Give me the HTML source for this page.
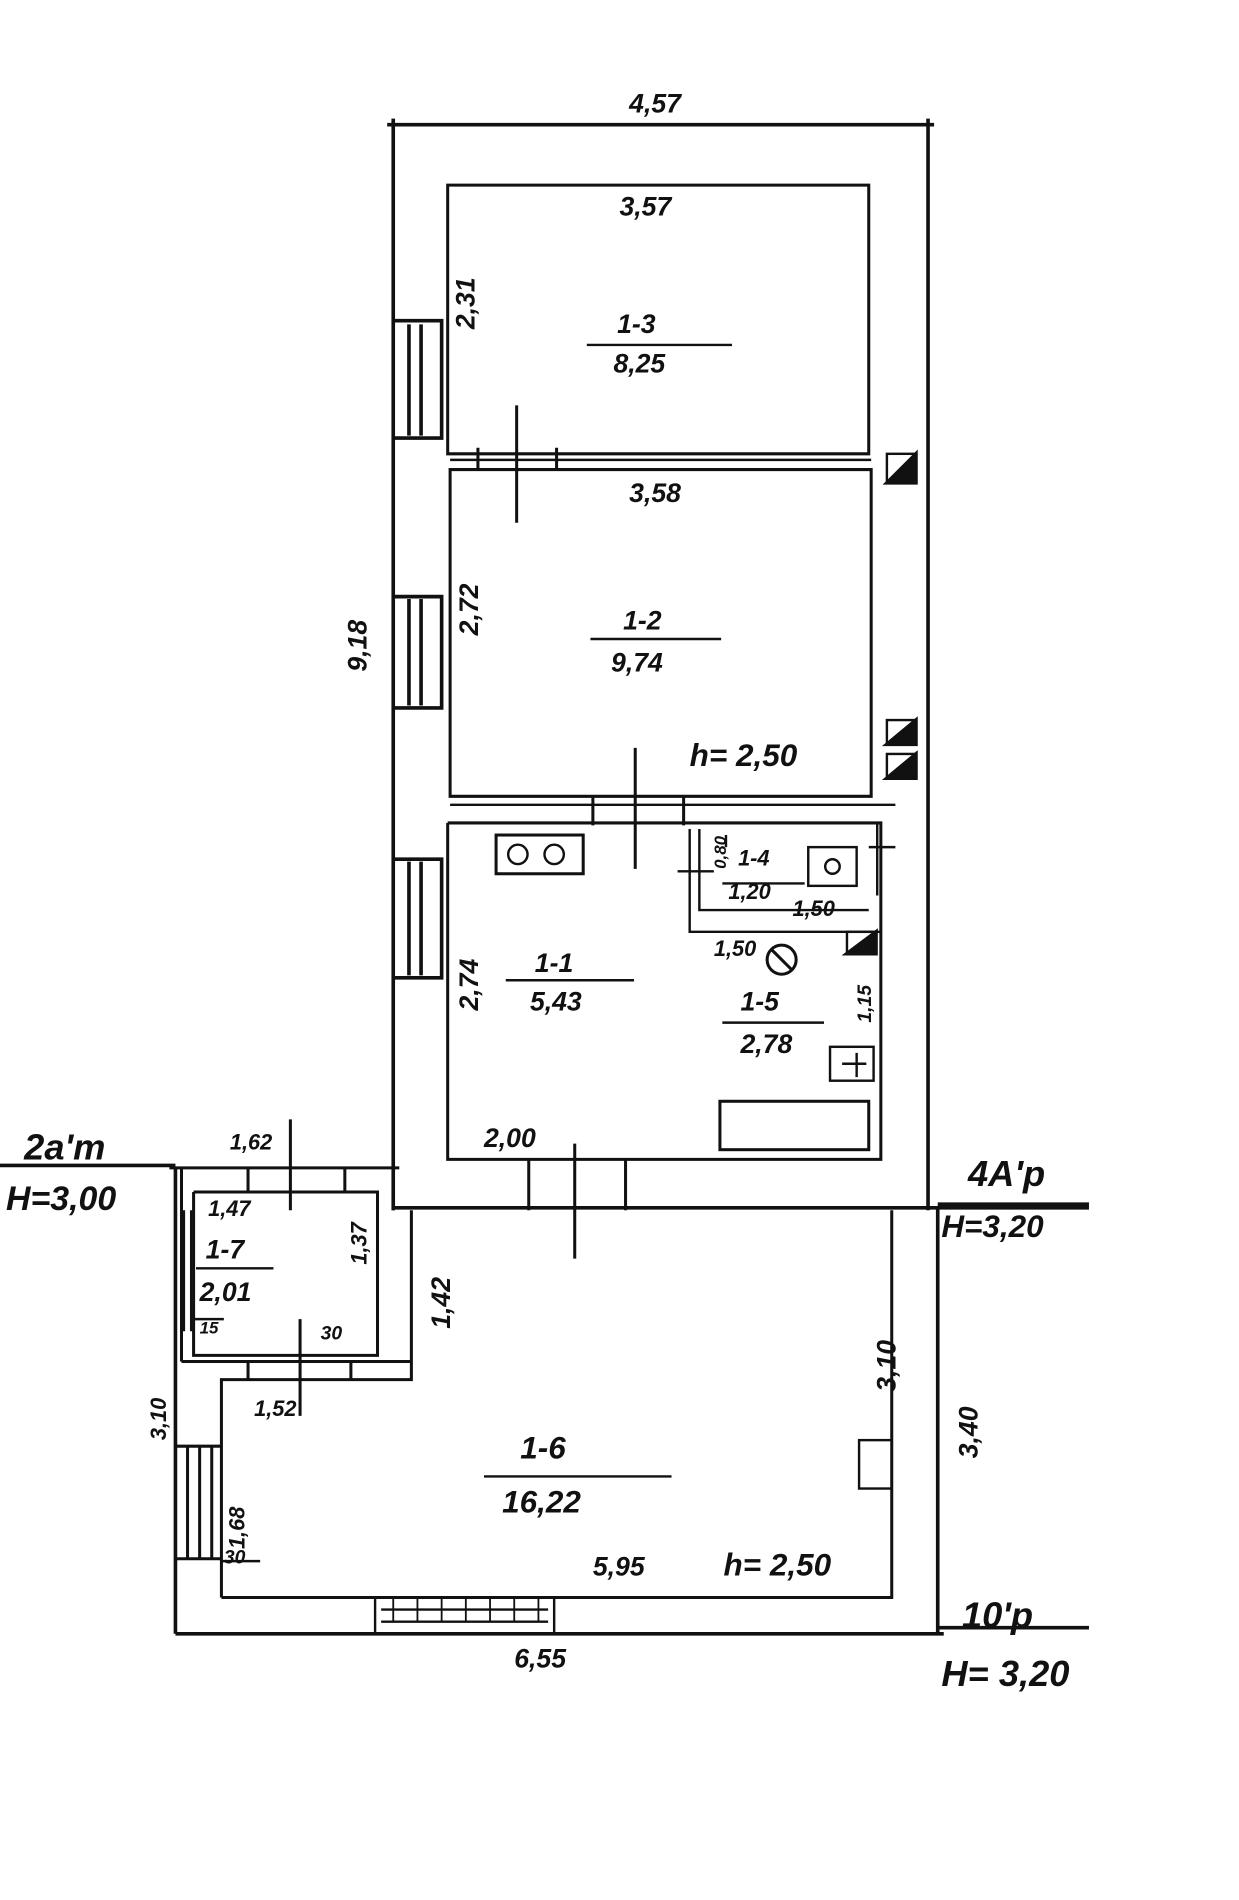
<!DOCTYPE html>
<html><head><style>html,body{margin:0;padding:0;background:#fff}svg{display:block}
text{font-family:"Liberation Sans",sans-serif;font-style:italic;font-weight:bold;fill:#111}</style></head>
<body>
<svg width="1239" height="1900" viewBox="0 0 1024 1570" preserveAspectRatio="none" xmlns="http://www.w3.org/2000/svg">
<g fill="none" stroke="#111" stroke-width="3">
<!-- main outer -->
<path d="M325 98 V1000 M320 103 H772 M767 98 V1000 M325 998 H900"/>
<!-- room 1-3 -->
<path d="M370 153 H718 V375 H370 Z" stroke-width="2.5"/>
<!-- room 1-2 -->
<path d="M372 388 H720 V658 H372 Z" stroke-width="2.5"/>
<path d="M372 380 H720" stroke-width="2"/>
<!-- room 1-1 -->
<path d="M370 680 V958 H728 V680 H370" stroke-width="2.5"/>
<path d="M372 665 H740" stroke-width="2"/>
<!-- doors -->
<path d="M427 335 V432 M395 370 V388 M460 370 V388" stroke-width="2.5"/>
<path d="M525 618 V718 M490 658 V682 M565 658 V682" stroke-width="2.5"/>
<path d="M475 945 V1040 M437 958 V1000 M517 958 V1000" stroke-width="2.5"/>
<!-- windows main -->
<path d="M325 265 H365 V362 H325 M338 268 V360 M348 268 V360"/>
<path d="M325 493 H365 V585 H325 M338 495 V583 M348 495 V583"/>
<path d="M325 710 H365 V808 H325 M338 712 V806 M348 712 V806"/>
<!-- stoves -->
<rect x="733" y="375" width="24" height="24" stroke-width="2"/><path d="M733 399 L757 375 L757 399Z" fill="#111"/>
<rect x="733" y="595" width="24" height="20" stroke-width="2"/><path d="M733 615 L757 595 L757 615Z" fill="#111"/>
<rect x="733" y="623" width="24" height="20" stroke-width="2"/><path d="M733 643 L757 623 L757 643Z" fill="#111"/>
<!-- kitchen fixtures -->
<rect x="410" y="690" width="72" height="32" stroke-width="2.5"/>
<circle cx="428" cy="706" r="8" stroke-width="2"/><circle cx="458" cy="706" r="8" stroke-width="2"/>
<path d="M570 685 V770 H728 M578 685 V752 H718 M570 720 H590 M560 720 H575 M600 690 V700 M725 680 V740 M718 700 H740" stroke-width="2"/>
<rect x="668" y="700" width="40" height="32" stroke-width="2"/><circle cx="688" cy="716" r="6" stroke-width="2"/>
<circle cx="646" cy="793" r="12" stroke-width="2.5"/><path d="M638 785 L654 801" stroke-width="2.5"/>
<rect x="700" y="770" width="24" height="18" stroke-width="2"/><path d="M700 788 L724 770 V788Z" fill="#111"/>
<rect x="686" y="865" width="36" height="28" stroke-width="2"/><path d="M696 879 H716 M708 870 V890" stroke-width="2"/>
<rect x="595" y="910" width="123" height="40" stroke-width="2.5"/>
<!-- room 1-6 -->
<path d="M145 1350 H780 M775 998 V1350 M145 965 V1350"/>
<path d="M183 1320 H737 V1000 M183 1320 V1140 H340 V1000" stroke-width="2.5"/>
<rect x="710" y="1190" width="27" height="40" stroke-width="2"/>
<path d="M310 1320 H458 V1350 H310 Z M315 1330 H453 M315 1340 H453" stroke-width="2"/>
<path d="M325 1320 V1340 M345 1320 V1340 M365 1320 V1340 M385 1320 V1340 M405 1320 V1340 M425 1320 V1340 M445 1320 V1340" stroke-width="1.5"/>
<path d="M145 1195 H183 M145 1288 H183 M155 1195 V1288 M165 1195 V1288 M175 1195 V1288" stroke-width="2.5"/>
<path d="M183 1290 H215" stroke-width="2"/>
<!-- room 1-7 -->
<path d="M140 965 H330 M160 985 V1120 H312 V985 H160 M150 1125 H340 M150 965 V1125 M325 985 V1000" stroke-width="2.5"/>
<path d="M152 1000 V1100 M158 1000 V1100" stroke-width="2"/>
<path d="M240 925 V1000 M205 965 V985 M285 965 V985" stroke-width="2.5"/>
<path d="M248 1090 V1170 M205 1125 V1140 M290 1125 V1140" stroke-width="2.5"/>
<path d="M160 1090 H185" stroke-width="2"/>
<!-- area lines -->
<path d="M485 285 H605 M488 528 H596 M418 810 H524 M597 845 H681 M400 1220 H555 M162 1048 H226 M597 730 H665" stroke-width="2"/>
<!-- H lines -->
<path d="M0 963 H145 M775 995 H900 M775 1345 H900"/>
</g>
<g font-size="22">
<text x="520" y="93">4,57</text>
<text x="512" y="178">3,57</text>
<text x="520" y="415">3,58</text>
<text x="510" y="275">1-3</text>
<text x="507" y="308">8,25</text>
<text x="515" y="520">1-2</text>
<text x="505" y="555">9,74</text>
<text x="570" y="633" font-size="26">h= 2,50</text>
<text x="442" y="803">1-1</text>
<text x="438" y="835">5,43</text>
<text x="612" y="835">1-5</text>
<text x="612" y="870">2,78</text>
<text x="610" y="715" font-size="18">1-4</text>
<text x="602" y="743" font-size="18">1,20</text>
<text x="655" y="757" font-size="18">1,50</text>
<text x="590" y="790" font-size="18">1,50</text>
<text x="400" y="948">2,00</text>
<text x="430" y="1205" font-size="26">1-6</text>
<text x="415" y="1250" font-size="26">16,22</text>
<text x="490" y="1302">5,95</text>
<text x="598" y="1302" font-size="26">h= 2,50</text>
<text x="425" y="1378">6,55</text>
<text x="170" y="1040">1-7</text>
<text x="165" y="1075">2,01</text>
<text x="190" y="950" font-size="18">1,62</text>
<text x="172" y="1005" font-size="18">1,47</text>
<text x="210" y="1170" font-size="18">1,52</text>
<text x="265" y="1107" font-size="16">30</text>
<text x="165" y="1102" font-size="14">15</text>
<text x="185" y="1292" font-size="16">30</text>
<text x="20" y="958" font-size="30">2a'm</text>
<text x="5" y="1000" font-size="28">H=3,00</text>
<text x="800" y="980" font-size="30">4A'p</text>
<text x="778" y="1022" font-size="26">H=3,20</text>
<text x="795" y="1345" font-size="30">10'p</text>
<text x="778" y="1393" font-size="30">H= 3,20</text>
<text transform="translate(392,272) rotate(-90)">2,31</text>
<text transform="translate(395,525) rotate(-90)">2,72</text>
<text transform="translate(303,555) rotate(-90)">9,18</text>
<text transform="translate(395,835) rotate(-90)">2,74</text>
<text transform="translate(372,1098) rotate(-90)">1,42</text>
<text transform="translate(303,1045) rotate(-90)" font-size="18">1,37</text>
<text transform="translate(137,1190) rotate(-90)" font-size="18">3,10</text>
<text transform="translate(202,1280) rotate(-90)" font-size="18">1,68</text>
<text transform="translate(740,1150) rotate(-90)">3,10</text>
<text transform="translate(808,1205) rotate(-90)">3,40</text>
<text transform="translate(720,845) rotate(-90)" font-size="16">1,15</text>
<text transform="translate(600,718) rotate(-90)" font-size="14">0,80</text>
</g>
</svg>
</body></html>
